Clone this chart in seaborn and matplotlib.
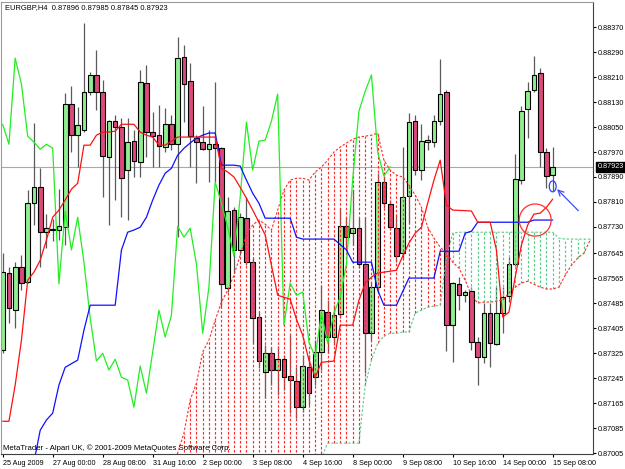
import matplotlib
matplotlib.use("Agg")
import matplotlib.pyplot as plt
import matplotlib.transforms as mtransforms
from matplotlib.patches import Ellipse
import numpy as np
import pandas as pd
import seaborn as sns

sns.set_style("white")
plt.rcParams['font.family'] = ['Liberation Sans', 'DejaVu Sans']

# ---------------- data (EURGBP H4) ----------------
open_ = [0.87335, 0.87582, 0.87463, 0.87601, 0.87553, 0.87806, 0.87857, 0.87713, 0.87720, 0.87720,
         0.87729, 0.88124, 0.88024, 0.88040, 0.88162, 0.88217, 0.88162, 0.87954, 0.88069, 0.88050,
         0.87912, 0.88005, 0.87938, 0.88191, 0.88034, 0.88024, 0.87986, 0.88059, 0.87995, 0.88274,
         0.88197, 0.88015, 0.88002, 0.87979, 0.87995, 0.87982, 0.87534, 0.87784, 0.87656, 0.87758,
         0.87617, 0.87441, 0.87264, 0.87325, 0.87271, 0.87306, 0.87252, 0.87236, 0.87152, 0.87281,
         0.87248, 0.87329, 0.87457, 0.87377, 0.87450, 0.87732, 0.87710, 0.87726, 0.87611, 0.87389,
         0.87537, 0.87874, 0.87803, 0.87726, 0.87646, 0.87829, 0.88069, 0.87912, 0.88002, 0.88002,
         0.88069, 0.88162, 0.87415, 0.87546, 0.87511, 0.87524, 0.87361, 0.87313, 0.87454, 0.87354,
         0.87454, 0.87508, 0.87611, 0.87880, 0.88108, 0.88168, 0.88223, 0.87970, 0.87896]
high = [0.87646, 0.87601, 0.87617, 0.87639, 0.87848, 0.88063, 0.87918, 0.87771, 0.87755, 0.87851,
        0.88159, 0.88181, 0.88114, 0.88383, 0.88226, 0.88297, 0.88201, 0.88072, 0.88088, 0.88079,
        0.88079, 0.88040, 0.88233, 0.88249, 0.88098, 0.88120, 0.88111, 0.88088, 0.88338, 0.88313,
        0.88255, 0.88024, 0.88117, 0.88040, 0.88194, 0.87986, 0.87825, 0.87793, 0.87774, 0.87825,
        0.87630, 0.87457, 0.87351, 0.87345, 0.87348, 0.87319, 0.87383, 0.87280, 0.87319, 0.87319,
        0.87367, 0.87543, 0.87495, 0.87479, 0.87790, 0.87761, 0.87848, 0.87758, 0.87761, 0.87553,
        0.87902, 0.87893, 0.87816, 0.87768, 0.87986, 0.88095, 0.88088, 0.88059, 0.88024, 0.88088,
        0.88268, 0.88168, 0.87553, 0.87569, 0.87527, 0.87537, 0.87377, 0.87486, 0.87486, 0.87537,
        0.87537, 0.87633, 0.87963, 0.88117, 0.88194, 0.88277, 0.88239, 0.87982, 0.87985]
low = [0.87325, 0.87421, 0.87405, 0.87527, 0.87550, 0.87736, 0.87601, 0.87662, 0.87684, 0.87688,
       0.87672, 0.87970, 0.87922, 0.88034, 0.88152, 0.88104, 0.87825, 0.87736, 0.87816, 0.87761,
       0.87752, 0.87890, 0.87890, 0.87954, 0.87922, 0.87922, 0.87970, 0.87976, 0.87697, 0.88066,
       0.87922, 0.87870, 0.87976, 0.87874, 0.87874, 0.87473, 0.87521, 0.87582, 0.87639, 0.87607,
       0.87357, 0.87277, 0.87181, 0.87223, 0.87191, 0.87207, 0.87133, 0.87117, 0.87136, 0.87159,
       0.87223, 0.87271, 0.87325, 0.87351, 0.87438, 0.87662, 0.87672, 0.87598, 0.87261, 0.87367,
       0.87521, 0.87790, 0.87720, 0.87617, 0.87630, 0.87742, 0.87896, 0.87880, 0.87976, 0.87986,
       0.88056, 0.87332, 0.87296, 0.87463, 0.87489, 0.87335, 0.87223, 0.87293, 0.87280, 0.87351,
       0.87389, 0.87489, 0.87604, 0.87867, 0.88015, 0.88162, 0.87922, 0.87854, 0.87845]
close = [0.87585, 0.87470, 0.87601, 0.87550, 0.87806, 0.87857, 0.87713, 0.87726, 0.87723, 0.87732,
         0.88124, 0.88024, 0.88056, 0.88162, 0.88217, 0.88162, 0.87957, 0.88069, 0.88050, 0.87886,
         0.88002, 0.87941, 0.88194, 0.88034, 0.88021, 0.87989, 0.88059, 0.87995, 0.88271, 0.88188,
         0.88021, 0.88002, 0.87979, 0.87995, 0.87982, 0.87547, 0.87781, 0.87656, 0.87761, 0.87617,
         0.87438, 0.87300, 0.87325, 0.87271, 0.87306, 0.87248, 0.87239, 0.87152, 0.87284, 0.87197,
         0.87329, 0.87463, 0.87377, 0.87447, 0.87732, 0.87697, 0.87726, 0.87611, 0.87389, 0.87537,
         0.87874, 0.87806, 0.87729, 0.87636, 0.87825, 0.88066, 0.87912, 0.88005, 0.88008, 0.88069,
         0.88156, 0.87415, 0.87550, 0.87511, 0.87521, 0.87361, 0.87313, 0.87454, 0.87357, 0.87454,
         0.87505, 0.87611, 0.87883, 0.88101, 0.88165, 0.88217, 0.87970, 0.87893, 0.87923]

# Tenkan-sen (red) vertices
tenkan_bar = [0, 1, 2, 3, 4, 5, 6, 7, 8, 9, 10, 11, 12, 13, 14, 15, 16, 17, 18, 19, 21, 22, 23, 24, 25, 26,
              28, 34, 35, 36, 37, 38, 39, 40, 41, 42, 43, 44, 46, 47, 48, 49, 50, 51, 53, 54, 56, 57, 58,
              59, 60, 63, 64, 65, 66, 67, 68, 69, 70, 71, 72, 75, 76, 78, 79, 80, 81, 82, 83, 84, 85, 86,
              87, 88]
tenkan_val = [0.87107, 0.87107, 0.87223, 0.87367, 0.87559, 0.87585, 0.87623, 0.87688, 0.87761, 0.87784,
              0.87816, 0.87851, 0.87870, 0.87992, 0.87992, 0.88024, 0.88034, 0.88034, 0.88037, 0.88059,
              0.88059, 0.88034, 0.88024, 0.88018, 0.87992, 0.87992, 0.88018, 0.88018, 0.87918, 0.87906,
              0.87890, 0.87857, 0.87822, 0.87784, 0.87745, 0.87704, 0.87607, 0.87511, 0.87498, 0.87434,
              0.87383, 0.87303, 0.87248, 0.87296, 0.87300, 0.87415, 0.87415, 0.87495, 0.87550, 0.87569,
              0.87582, 0.87591, 0.87636, 0.87678, 0.87710, 0.87729, 0.87806, 0.87880, 0.87944, 0.87800,
              0.87784, 0.87781, 0.87745, 0.87745, 0.87656, 0.87441, 0.87457, 0.87569, 0.87672, 0.87736,
              0.87771, 0.87774, 0.87793, 0.87819]

# Kijun-sen (blue) vertices
kijun_bar = [5, 6, 7, 8, 9, 10, 12, 13, 14, 18, 19, 20, 21, 22, 23, 24, 25, 26, 27, 28, 29, 30, 31, 32,
             33, 34, 35, 37, 38, 39, 40, 41, 42, 46, 47, 48, 53, 55, 56, 59, 60, 61, 63, 65, 69, 70, 73,
             74, 75, 76, 84, 85, 88]
kijun_val = [0.86976, 0.87078, 0.87111, 0.87133, 0.87223, 0.87280, 0.87303, 0.87399, 0.87479, 0.87479,
             0.87656, 0.87713, 0.87720, 0.87729, 0.87761, 0.87816, 0.87864, 0.87902, 0.87918, 0.87960,
             0.87982, 0.87999, 0.88015, 0.88024, 0.88031, 0.88031, 0.87928, 0.87928, 0.87925, 0.87880,
             0.87838, 0.87806, 0.87758, 0.87758, 0.87697, 0.87691, 0.87691, 0.87656, 0.87617, 0.87617,
             0.87527, 0.87479, 0.87479, 0.87566, 0.87566, 0.87652, 0.87652, 0.87710, 0.87716, 0.87745,
             0.87745, 0.87752, 0.87752]

# Senkou spans (cloud), bars 27 .. 94
span_bar = list(range(27, 95))
span_b = [0.86950, 0.87005, 0.87069, 0.87175, 0.87229, 0.87329, 0.87367, 0.87431, 0.87489, 0.87527,
          0.87575, 0.87639, 0.87710, 0.87736, 0.87752, 0.87739, 0.87720, 0.87784, 0.87848, 0.87880,
          0.87886, 0.87886, 0.87880, 0.87906, 0.87922, 0.87944, 0.87970, 0.87986, 0.87999, 0.88011,
          0.88018, 0.88021, 0.88024, 0.88031, 0.87944, 0.87912, 0.87896, 0.87890, 0.87864, 0.87832,
          0.87793, 0.87729, 0.87694, 0.87665, 0.87646, 0.87617, 0.87598, 0.87559, 0.87511, 0.87486,
          0.87489, 0.87489, 0.87492, 0.87495, 0.87518, 0.87537, 0.87550, 0.87556, 0.87546, 0.87537,
          0.87531, 0.87531, 0.87537, 0.87575, 0.87607, 0.87630, 0.87646, 0.87688]
span_a = [0.86918, 0.86918, 0.86918, 0.86918, 0.86918, 0.86918, 0.86918, 0.86918, 0.86918, 0.86918,
          0.86918, 0.86918, 0.86918, 0.86918, 0.86918, 0.86918, 0.86918, 0.86918, 0.86918, 0.86918,
          0.86918, 0.86918, 0.86950, 0.86982, 0.86989, 0.87037, 0.87037, 0.87037, 0.87037, 0.87037,
          0.87037, 0.87223, 0.87303, 0.87357, 0.87380, 0.87389, 0.87389, 0.87393, 0.87393, 0.87454,
          0.87463, 0.87473, 0.87476, 0.87479, 0.87630, 0.87710, 0.87713, 0.87713, 0.87713, 0.87713,
          0.87713, 0.87713, 0.87713, 0.87713, 0.87713, 0.87713, 0.87713, 0.87713, 0.87713, 0.87713,
          0.87713, 0.87713, 0.87694, 0.87691, 0.87691, 0.87691, 0.87691, 0.87691]
chikou_shift = 26

xtick_bars = [0, 8, 16, 24, 32, 40, 48, 56, 64, 72, 80, 88]
xtick_labels = ["25 Aug 2009", "27 Aug 00:00", "28 Aug 08:00", "31 Aug 16:00", "2 Sep 00:00",
                "3 Sep 08:00", "4 Sep 16:00", "8 Sep 00:00", "9 Sep 08:00", "10 Sep 16:00",
                "14 Sep 00:00", "15 Sep 08:00"]
ytick_labels = ["0.88370", "0.88290", "0.88210", "0.88130", "0.88050", "0.87970", "0.87890",
                "0.87810", "0.87730", "0.87645", "0.87565", "0.87485", "0.87405", "0.87325",
                "0.87245", "0.87165", "0.87085", "0.87005"]

title_text = "EURGBP,H4  0.87896 0.87985 0.87845 0.87923"
footer_text = "MetaTrader - Alpari UK, \u00a9 2001-2009 MetaQuotes Software Corp."

FS = 5.2

# ---------------- figure ----------------
W, H = 625, 469
fig = plt.figure(figsize=(W / 100, H / 100), dpi=100)
fig.patch.set_facecolor("white")
ax = fig.add_axes([1 / W, 15 / H, 592 / W, 452 / H])
ax.set_facecolor("white")

df = pd.DataFrame({"bar": np.arange(len(close)), "open": open_, "high": high,
                   "low": low, "close": close})
bull = df["close"] >= df["open"]
body_colors = np.where(bull, "#90ee90", "#dc4a7c")

# wicks
ax.vlines(df["bar"], df["low"], df["high"], colors="#5a5a5a", linewidth=0.9, zorder=2)
# bodies
ax.bar(df["bar"], df["close"] - df["open"], bottom=df["open"], width=0.74,
       color=body_colors, edgecolor="black", linewidth=0.8, zorder=2.5)

# cloud histogram
sp = pd.DataFrame({"bar": span_bar, "a": span_a, "b": span_b})
top = np.maximum(sp["a"], sp["b"])
bot = np.minimum(sp["a"], sp["b"])
cloud_colors = np.where(sp["a"] > sp["b"], "#5ccb8a", "#ff2a2a")
ax.vlines(sp["bar"], bot, top, colors=cloud_colors, linewidth=0.85,
          linestyles=(0, (2.2, 1.6)), zorder=3)

# span boundary lines
sns.lineplot(data=sp, x="bar", y="b", ax=ax, color="#ff2a2a", linewidth=0.8,
             estimator=None, sort=False, zorder=3.2)
ax.lines[-1].set_linestyle((0, (2.2, 1.6)))
sns.lineplot(data=sp, x="bar", y="a", ax=ax, color="#5ccb8a", linewidth=0.8,
             estimator=None, sort=False, zorder=3.2)
ax.lines[-1].set_linestyle((0, (2.2, 1.6)))

# chikou span (close shifted back)
ch = pd.DataFrame({"bar": df["bar"][:len(close) - chikou_shift].values,
                   "val": df["close"][chikou_shift:].values})
sns.lineplot(data=ch, x="bar", y="val", ax=ax, color="#22ee22", linewidth=0.9,
             estimator=None, sort=False, zorder=4)
# kijun
sns.lineplot(x=kijun_bar, y=kijun_val, ax=ax, color="#1010ff", linewidth=0.9,
             estimator=None, sort=False, zorder=4.2)
# tenkan
sns.lineplot(x=tenkan_bar, y=tenkan_val, ax=ax, color="#ff1010", linewidth=0.9,
             estimator=None, sort=False, zorder=4.4)

# current price line
last = close[-1]
ax.axhline(last, color="#a8a8a8", linewidth=0.8, zorder=1.5)

# hand-drawn annotations
ax.add_patch(Ellipse((85.2, 0.87752), width=5.1, height=0.00103, fill=False,
                     edgecolor="#ff3030", linewidth=0.9, zorder=5))
ax.add_patch(Ellipse((88.0, 0.87860), width=1.1, height=0.00035, fill=False,
                     edgecolor="#3040ff", linewidth=0.9, zorder=5))
ax.annotate("", xy=(88.7, 0.87851), xytext=(92.1, 0.87782),
            arrowprops=dict(arrowstyle="->", color="#3a4cff", lw=0.9,
                            shrinkA=0, shrinkB=0), zorder=5)

# axes limits
ax.set_xlim(-0.27, 94.45)
ax.set_ylim(0.87002, 0.88451)

# ticks
ax.set_xticks(xtick_bars)
ax.set_xticklabels(xtick_labels)
for lab in ax.get_xticklabels():
    lab.set_horizontalalignment("left")
yvals = [float(s) for s in ytick_labels]
ax.set_yticks(yvals)
ax.set_yticklabels(ytick_labels)
ax.yaxis.tick_right()
ax.tick_params(axis="y", which="both", right=True, left=False, labelright=True,
               labelleft=False, length=2.5, width=0.8, pad=1, labelsize=FS,
               direction="out", colors="black")
ax.tick_params(axis="x", which="both", bottom=True, length=2.5, width=0.8, pad=1.5,
               labelsize=FS, direction="out", colors="black")
ax.set_xlabel("")
ax.set_ylabel("")

for side in ["left", "top"]:
    ax.spines[side].set_color("#9a9a9a")
    ax.spines[side].set_linewidth(0.8)
for side in ["right", "bottom"]:
    ax.spines[side].set_color("#404040")
    ax.spines[side].set_linewidth(0.8)

# price label box
trans = mtransforms.blended_transform_factory(ax.transAxes, ax.transData)
ax.text(1.0082, last, "0.87923", transform=trans, ha="left", va="center",
        fontsize=FS, color="white", zorder=6, clip_on=False,
        bbox=dict(boxstyle="square,pad=0.2", facecolor="black", edgecolor="black"))

# texts
ax.text(4 / 592, 1 - 6 / 452, title_text, transform=ax.transAxes, ha="left",
        va="center", fontsize=5.4, color="black", zorder=6)
ax.text(2 / 592, 6 / 452, footer_text, transform=ax.transAxes, ha="left",
        va="center", fontsize=5.6, color="black", zorder=6)

fig.savefig("out.png", dpi=100, facecolor="white")
